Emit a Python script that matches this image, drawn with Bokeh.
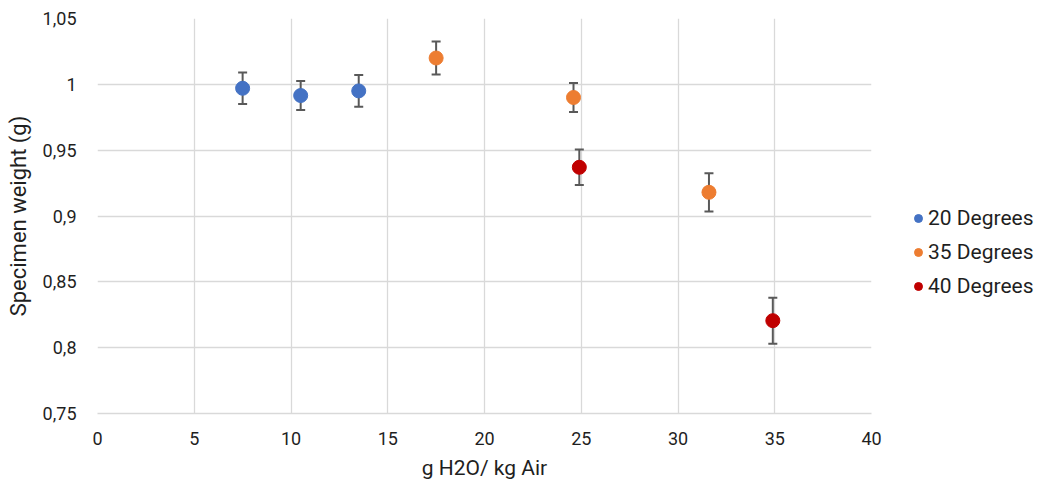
from bokeh.plotting import figure
from bokeh.layouts import row
from bokeh.models import (ColumnDataSource, Range1d, FixedTicker, Whisker, TeeHead,
                          Legend, LegendItem)
from bokeh.embed import file_html
from bokeh.resources import INLINE

# ---- data ----
series_names = ["20 Degrees", "35 Degrees", "40 Degrees"]
series_colors = ["#4472C4", "#ED7D31", "#C00000"]

x20 = [7.5, 10.5, 13.5]
y20 = [0.997, 0.9915, 0.995]
e20 = [0.012, 0.011, 0.012]

x35 = [17.5, 24.6, 31.6]
y35 = [1.020, 0.990, 0.918]
e35 = [0.0125, 0.011, 0.0145]

x40 = [24.9, 34.9]
y40 = [0.937, 0.8205]
e40 = [0.0135, 0.0175]

x_ticks = [0, 5, 10, 15, 20, 25, 30, 35, 40]
y_ticks = [0.75, 0.8, 0.85, 0.9, 0.95, 1.0, 1.05]
y_tick_labels = ["0,75", "0,8", "0,85", "0,9", "0,95", "1", "1,05"]

FONT = "Roboto"
TXT = "#1f1f1f"
GRID = "#d9d9d9"

p = figure(frame_width=774, frame_height=395, output_backend="svg", toolbar_location=None,
           x_range=Range1d(0, 40), y_range=Range1d(0.75, 1.05),
           min_border_left=97, min_border_top=18, min_border_bottom=71, min_border_right=25)
p.outline_line_color = None
p.background_fill_color = "white"
p.border_fill_color = "white"

p.xaxis.ticker = FixedTicker(ticks=x_ticks)
p.yaxis.ticker = FixedTicker(ticks=y_ticks)
p.yaxis.major_label_overrides = {t: l for t, l in zip(y_ticks, y_tick_labels)}

for ax in (p.xaxis[0], p.yaxis[0]):
    ax.major_tick_line_color = None
    ax.minor_tick_line_color = None
    ax.major_label_text_font = FONT
    ax.major_label_text_font_size = "18px"
    ax.major_label_text_color = TXT
    ax.axis_label_text_font = FONT
    ax.axis_label_text_font_style = "normal"
    ax.axis_label_text_color = TXT
p.xaxis.axis_label_text_font_size = "21px"
p.yaxis.axis_label_text_font_size = "22px"
p.yaxis.axis_line_color = None
p.xaxis.axis_line_color = GRID
p.xaxis.axis_line_width = 1.5
p.xaxis.axis_label = "g H2O/ kg Air"
p.yaxis.axis_label = "Specimen weight (g)"
p.xaxis.major_label_standoff = 12
p.yaxis.major_label_standoff = 15
p.xaxis.axis_label_standoff = 8
p.yaxis.axis_label_standoff = 9

p.xgrid.grid_line_color = GRID
p.ygrid.grid_line_color = GRID
p.xgrid.grid_line_width = 1.3
p.ygrid.grid_line_width = 1.3

# legend lives in a narrow companion figure to the right of the plot
pl = figure(frame_width=141, frame_height=484, output_backend="svg", toolbar_location=None,
            x_range=Range1d(0, 1), y_range=Range1d(0, 1),
            min_border_left=0, min_border_right=0, min_border_top=0, min_border_bottom=0)
pl.axis.visible = False
pl.grid.visible = False
pl.outline_line_color = None
pl.background_fill_color = "white"
pl.border_fill_color = "white"

items = []
for name, color, xs, ys, es in [
    (series_names[0], series_colors[0], x20, y20, e20),
    (series_names[1], series_colors[1], x35, y35, e35),
    (series_names[2], series_colors[2], x40, y40, e40),
]:
    src = ColumnDataSource(dict(x=xs, y=ys,
                                lo=[a - b for a, b in zip(ys, es)],
                                hi=[a + b for a, b in zip(ys, es)]))
    w = Whisker(source=src, base="x", upper="hi", lower="lo",
                line_color="#595959", line_width=2,
                upper_head=TeeHead(size=9, line_color="#595959", line_width=2),
                lower_head=TeeHead(size=9, line_color="#595959", line_width=2))
    p.add_layout(w)
    r = p.scatter("x", "y", source=src, size=14, fill_color=color, line_color=color)
    # legend proxy: shares the series' data, drawn outside the companion's ranges
    proxy = pl.scatter("x", "y", source=src, size=14, fill_color=color, line_color=color)
    items.append(LegendItem(label=name, renderers=[proxy]))

legend = Legend(items=items, location=(12, 186), border_line_color=None,
                background_fill_alpha=0, label_text_font=FONT,
                label_text_font_size="21px", label_text_color=TXT,
                glyph_width=20, glyph_height=20, label_height=20,
                label_standoff=0, spacing=10, margin=0, padding=0)
pl.add_layout(legend)

layout = row(p, pl, spacing=0)
open("out.html", "w").write(file_html(layout, INLINE))
